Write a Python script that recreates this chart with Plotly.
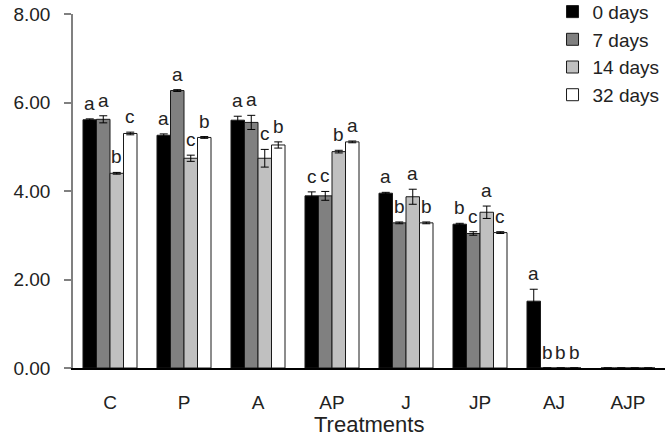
import plotly.graph_objects as go

treatments = ["C", "P", "A", "AP", "J", "JP", "AJ", "AJP"]
series_names = ["0 days", "7 days", "14 days", "32 days"]
values = {
    "0 days":  [5.61, 5.26, 5.60, 3.89, 3.95, 3.25, 1.51, 0.0],
    "7 days":  [5.62, 6.27, 5.55, 3.89, 3.28, 3.04, 0.0, 0.0],
    "14 days": [4.40, 4.74, 4.74, 4.89, 3.87, 3.52, 0.0, 0.0],
    "32 days": [5.30, 5.21, 5.04, 5.11, 3.28, 3.06, 0.0, 0.0],
}
errors = {
    "0 days":  [0.02, 0.03, 0.09, 0.09, 0.02, 0.02, 0.27, 0.0],
    "7 days":  [0.08, 0.02, 0.16, 0.10, 0.02, 0.04, 0.0, 0.0],
    "14 days": [0.02, 0.07, 0.20, 0.03, 0.17, 0.14, 0.0, 0.0],
    "32 days": [0.03, 0.02, 0.07, 0.02, 0.02, 0.02, 0.0, 0.0],
}
letters = {
    "0 days":  ["a", "a", "a", "c", "a", "b", "a", ""],
    "7 days":  ["a", "a", "a", "c", "b", "c", "b", ""],
    "14 days": ["b", "c", "c", "b", "a", "a", "b", ""],
    "32 days": ["c", "b", "b", "a", "b", "c", "b", ""],
}
colors = {"0 days": "#000000", "7 days": "#808080", "14 days": "#c0c0c0", "32 days": "#ffffff"}
x_title = "Treatments"

FONT = "Liberation Sans, Arial, sans-serif"
TXT = "#222222"

fig = go.Figure()
for s in series_names:
    fig.add_trace(go.Bar(
        name=s, x=treatments, y=values[s],
        marker=dict(color=colors[s], line=dict(color="#1a1a1a", width=1)),
        error_y=dict(type="data", array=errors[s], visible=True,
                     color="#000000", thickness=1, width=4),
    ))

bargap = 0.27
bw = (1 - bargap) / len(series_names)
annotations = []
for j, s in enumerate(series_names):
    off = -((1 - bargap) / 2) + bw * (j + 0.5)
    for i, t in enumerate(treatments):
        if not letters[s][i]:
            continue
        annotations.append(dict(
            x=i + off, y=values[s][i] + errors[s][i], xref="x", yref="y",
            text=letters[s][i], showarrow=False, yanchor="bottom",
            yshift=3, font=dict(family=FONT, size=19, color=TXT),
        ))
annotations.append(dict(
    x=0.5, y=-0.118, xref="paper", yref="paper", xanchor="center", yanchor="top",
    text=x_title, showarrow=False, font=dict(family=FONT, size=22, color=TXT),
))

fig.update_layout(
    width=665, height=438,
    margin=dict(l=73, r=0, t=14, b=70, autoexpand=False),
    paper_bgcolor="white", plot_bgcolor="white",
    barmode="group", bargap=bargap, bargroupgap=0,
    font=dict(family=FONT, size=19, color=TXT),
    showlegend=True,
    legend=dict(x=0.81, y=1.06, xanchor="left", yanchor="top",
                font=dict(family=FONT, size=19, color=TXT),
                bgcolor="rgba(0,0,0,0)", tracegroupgap=0),
    annotations=annotations,
)
fig.update_xaxes(
    type="category", showline=True, linecolor="#000000", linewidth=1.5,
    ticks="", ticklabelstandoff=16, showgrid=False, automargin=False,
    tickfont=dict(family=FONT, size=19, color=TXT),
)
fig.update_yaxes(
    range=[0, 8], tickvals=[0, 2, 4, 6, 8], tickformat=".2f",
    showline=True, linecolor="#808080", linewidth=1.5,
    ticks="outside", ticklen=7, tickcolor="#808080", tickwidth=1.5,
    ticklabelstandoff=10, automargin=False,
    showgrid=False, zeroline=False,
    tickfont=dict(family=FONT, size=19, color=TXT),
)
fig.write_html("out.html")
